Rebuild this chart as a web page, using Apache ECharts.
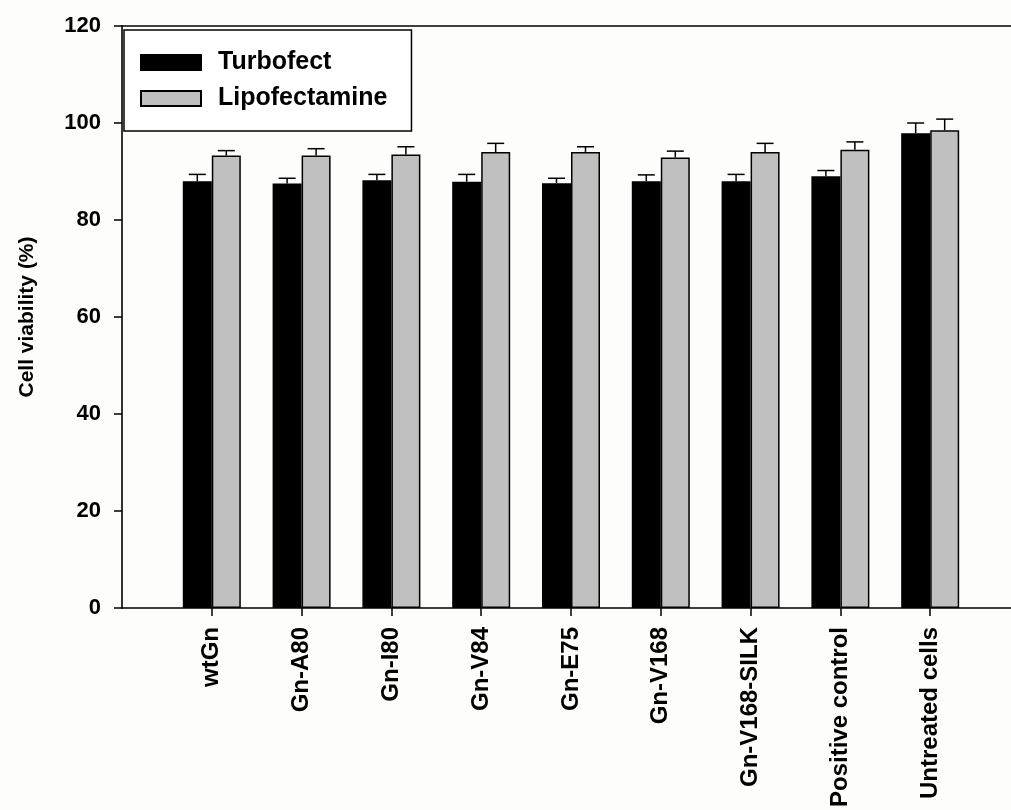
<!DOCTYPE html>
<html>
<head>
<meta charset="utf-8">
<script src="https://cdn.jsdelivr.net/npm/echarts@6/dist/echarts.min.js"></script>
<style>
html,body{margin:0;padding:0;background:#fdfdfb;}
#chart{width:1011px;height:810px;}
</style>
</head>
<body>
<div id="chart"></div>
<script>
const categories = ['wtGn','Gn-A80','Gn-I80','Gn-V84','Gn-E75','Gn-V168','Gn-V168-SILK','Positive control','Untreated cells'];
const turbofect = [88.0, 87.5, 88.2, 87.9, 87.6, 88.0, 88.0, 89.0, 97.9];
const turbofectErr = [1.4, 1.1, 1.2, 1.5, 1.0, 1.3, 1.4, 1.2, 2.1];
const lipofectamine = [93.3, 93.3, 93.5, 94.0, 94.0, 92.9, 94.0, 94.5, 98.5];
const lipofectamineErr = [1.0, 1.4, 1.6, 1.8, 1.1, 1.3, 1.8, 1.6, 2.3];
const yTicks = [0, 20, 40, 60, 80, 100, 120];

const BAR_W = 29;
const FONT = 'Liberation Sans, Arial, sans-serif';

const positions = categories.map((c, i) => i + 1);
const turboData = positions.map((p, i) => [p, turbofect[i]]);
const lipoData = positions.map((p, i) => [p, lipofectamine[i]]);
const turboErrData = positions.map((p, i) => [p, turbofect[i], turbofectErr[i]]);
const lipoErrData = positions.map((p, i) => [p, lipofectamine[i], lipofectamineErr[i]]);

function errRenderer(sign) {
  return function (params, api) {
    const top = api.coord([api.value(0), api.value(1) + api.value(2)]);
    const base = api.coord([api.value(0), api.value(1)]);
    const cx = base[0] + sign * BAR_W / 2;
    const style = { stroke: '#000', lineWidth: 1.5 };
    return {
      type: 'group',
      children: [
        { type: 'line', shape: { x1: cx, y1: base[1], x2: cx, y2: top[1] }, style },
        { type: 'line', shape: { x1: cx - 8.5, y1: top[1], x2: cx + 8.5, y2: top[1] }, style }
      ]
    };
  };
}

const chart = echarts.init(document.getElementById('chart'), null, { renderer: 'canvas' });
chart.setOption({
  backgroundColor: '#fdfdfb',
  animation: false,
  textStyle: { fontFamily: FONT },
  grid: { left: 122, right: 0, top: 26, bottom: 200, containLabel: false },
  legend: {
    data: ['Turbofect', 'Lipofectamine'],
    orient: 'vertical',
    left: 124,
    top: 30,
    padding: [20, 24, 20, 16],
    itemGap: 11,
    itemWidth: 60,
    itemHeight: 15,
    icon: 'rect',
    borderColor: '#000',
    borderWidth: 1.5,
    backgroundColor: '#fff',
    textStyle: { fontSize: 25, fontWeight: 'bold', color: '#000', fontFamily: FONT, padding: [0, 0, 0, 12] }
  },
  xAxis: [{
    type: 'value',
    min: 0,
    max: 9.9,
    interval: 1,
    position: 'bottom',
    splitLine: { show: false },
    axisLine: { show: true, onZero: false, lineStyle: { color: '#000', width: 1.6 } },
    axisTick: { show: true, inside: false, length: 8, customValues: positions, lineStyle: { color: '#000', width: 1.5 } },
    axisLabel: {
      customValues: positions,
      formatter: v => categories[Math.round(v) - 1] || '',
      rotate: 90,
      margin: 19,
      fontSize: 24,
      fontWeight: 'bold',
      color: '#000',
      fontFamily: FONT
    }
  }, {
    type: 'value',
    min: 0,
    max: 9.9,
    position: 'top',
    splitLine: { show: false },
    axisLine: { show: true, onZero: false, lineStyle: { color: '#000', width: 1.6 } },
    axisTick: { show: false },
    axisLabel: { show: false }
  }],
  yAxis: {
    type: 'value',
    min: 0,
    max: 120,
    interval: 20,
    name: 'Cell viability (%)',
    nameLocation: 'middle',
    nameGap: 84,
    nameTextStyle: { fontSize: 21, fontWeight: 'bold', color: '#000', fontFamily: FONT },
    splitLine: { show: false },
    axisLine: { show: true, lineStyle: { color: '#000', width: 1.6 } },
    axisTick: { show: true, inside: false, length: 8, lineStyle: { color: '#000', width: 1.5 } },
    axisLabel: {
      margin: 21,
      fontSize: 22,
      fontWeight: 'bold',
      color: '#000',
      fontFamily: FONT,
      formatter: v => (yTicks.indexOf(v) >= 0 ? String(v) : '')
    }
  },
  series: [
    {
      name: 'Turbofect',
      type: 'bar',
      xAxisIndex: 0,
      data: turboData,
      barWidth: BAR_W,
      barGap: '0%',
      itemStyle: { color: '#000', borderColor: '#000', borderWidth: 1.5 },
      z: 2
    },
    {
      name: 'Lipofectamine',
      type: 'bar',
      xAxisIndex: 0,
      data: lipoData,
      barWidth: BAR_W,
      barGap: '0%',
      itemStyle: { color: '#c0c0c0', borderColor: '#000', borderWidth: 1.5 },
      z: 2
    },
    {
      name: 'Turbofect SD',
      type: 'custom',
      xAxisIndex: 0,
      data: turboErrData,
      renderItem: errRenderer(-1),
      z: 3
    },
    {
      name: 'Lipofectamine SD',
      type: 'custom',
      xAxisIndex: 0,
      data: lipoErrData,
      renderItem: errRenderer(1),
      z: 3
    }
  ]
});
</script>
</body>
</html>
